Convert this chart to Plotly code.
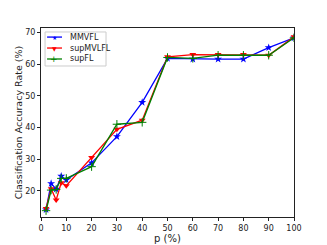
import plotly.graph_objects as go

p = [2, 4, 6, 8, 10, 20, 30, 40, 50, 60, 70, 80, 90, 100]
mmvfl = [14.0, 22.3, 20.5, 24.6, 23.4, 28.8, 37.1, 47.9, 61.8, 61.6, 61.6, 61.6, 65.2, 68.3]
supmvlfl = [14.4, 20.6, 17.1, 22.5, 21.6, 30.5, 39.4, 42.3, 62.3, 63.0, 63.0, 63.0, 62.8, 68.6]
supfl = [13.7, 20.2, 20.4, 23.9, 23.9, 27.6, 41.0, 41.6, 62.1, 61.8, 62.8, 62.8, 62.8, 68.3]
names = ["MMVFL", "supMVLFL", "supFL"]
xticks = [0, 10, 20, 30, 40, 50, 60, 70, 80, 90, 100]
yticks = [20, 30, 40, 50, 60, 70]

colors = ["#0000ff", "#ff0000", "#008000"]
symbols = ["star", "triangle-down", "cross-thin"]
glyphs = ["★", "▼", "+"]

fig = go.Figure()
for name, vals, c, s in zip(names, [mmvfl, supmvlfl, supfl], colors, symbols):
    mk = dict(symbol=s, size=6, color=c)
    if s == "cross-thin":
        mk["line"] = dict(color=c, width=1)
    fig.add_trace(go.Scatter(x=p, y=vals, name=name, mode="lines+markers",
                             line=dict(color=c, width=1.3), marker=mk, showlegend=False))

axis_common = dict(showline=True, linecolor="#222", linewidth=1, mirror=True,
                   ticks="outside", ticklen=3, tickcolor="#222", showgrid=False,
                   zeroline=False, automargin=False, tickfont=dict(size=8, color="#222"))
fig.update_xaxes(range=[0, 100], tickvals=xticks,
                 title=dict(text="p (%)", font=dict(size=10, color="#222"), standoff=2),
                 **axis_common)
fig.update_yaxes(range=[11.7, 71.4], tickvals=yticks,
                 title=dict(text="Classification Accuracy Rate (%)", font=dict(size=9.5, color="#222"), standoff=0),
                 **axis_common)

# compact legend drawn as layout decorations
shapes = [dict(type="rect", xref="paper", yref="paper", x0=0.016, x1=0.257, y0=0.799, y1=0.979,
               line=dict(color="#cccccc", width=1), fillcolor="white", layer="above")]
annotations = []
leg_y = [0.952, 0.894, 0.836]
for name, c, g, ly in zip(names, colors, glyphs, leg_y):
    shapes.append(dict(type="line", xref="paper", yref="paper", x0=0.024, x1=0.083, y0=ly, y1=ly,
                       line=dict(color=c, width=1.3), layer="above"))
    annotations.append(dict(xref="paper", yref="paper", x=0.053, y=ly, text=g, showarrow=False,
                            font=dict(size=6 if g != "+" else 9, color=c), xanchor="center", yanchor="middle"))
    annotations.append(dict(xref="paper", yref="paper", x=0.105, y=ly, text=name, showarrow=False,
                            font=dict(size=8, color="#222"), xanchor="left", yanchor="middle"))

fig.update_layout(width=327, height=245, margin=dict(l=41, r=33, t=28, b=28),
                  paper_bgcolor="white", plot_bgcolor="white",
                  font=dict(family="DejaVu Sans", color="#222"),
                  showlegend=False, shapes=shapes, annotations=annotations)
fig.write_html("out.html", config={"displayModeBar": False},
               post_script="document.body.style.margin='0';")
